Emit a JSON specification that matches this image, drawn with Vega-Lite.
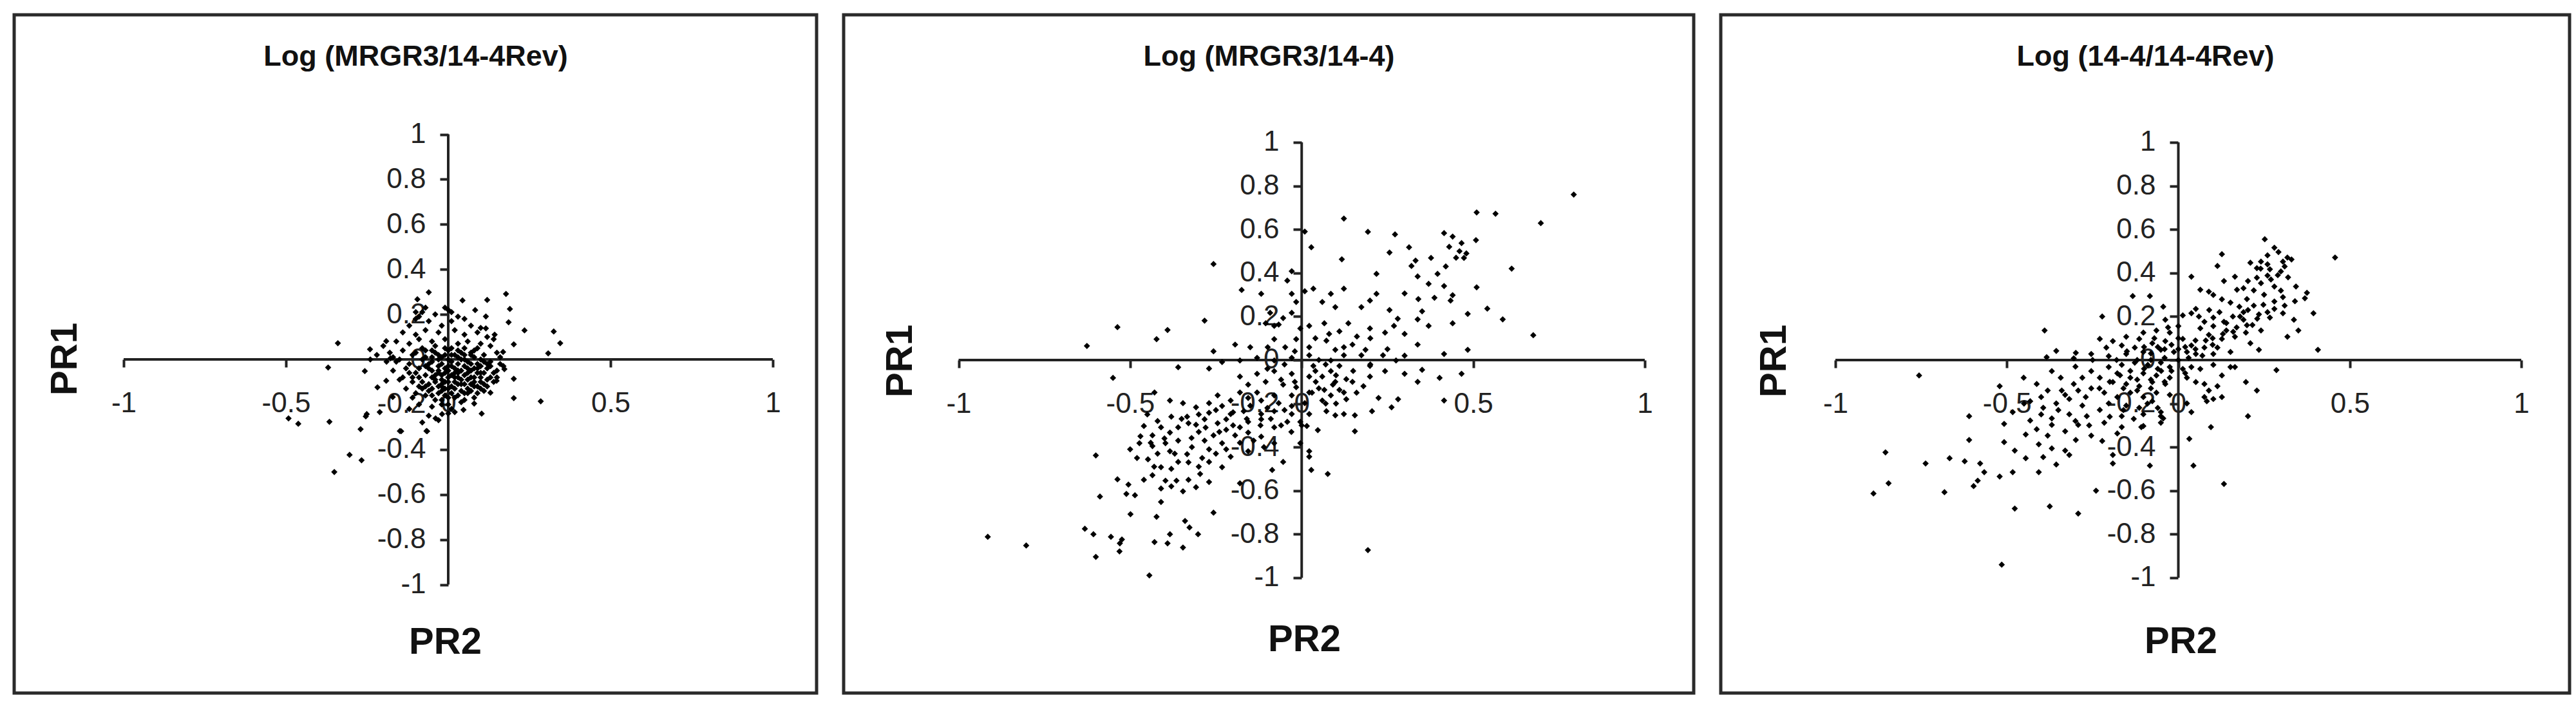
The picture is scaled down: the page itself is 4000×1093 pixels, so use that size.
{
  "$schema": "https://vega.github.io/schema/vega-lite/v6.json",
  "background": "white",
  "padding": {"left": 19, "top": 20, "right": 0, "bottom": 0},
  "spacing": 36,
  "config": {
    "view": {"stroke": "#2a2a2a", "strokeWidth": 5},
    "axis": {
      "domain": false,
      "grid": false,
      "tickColor": "#222",
      "tickWidth": 4,
      "labelFont": "Liberation Sans, Arial, sans-serif",
      "labelFontSize": 44,
      "labelColor": "#222",
      "titleFont": "Liberation Sans Narrow, Liberation Sans, Arial, sans-serif",
      "titleFontSize": 58,
      "titleFontWeight": "bold",
      "titleColor": "#111",
      "titleAngle": 0,
      "titleAlign": "center",
      "titleBaseline": "middle"
    },
    "axisX": {"tickSize": 12, "labelPadding": 34},
    "axisY": {"tickSize": 13, "labelPadding": 22, "titleAngle": -90}
  },
  "datasets": {
    "ax": [
      {"x": -1, "x2": 1, "y": 0, "y2": 0},
      {"x": 0, "x2": 0, "y": -1, "y2": 1}
    ],
    "p1": [
      {"x":-0.06,"y":0.298},{"x":0.178,"y":0.291},{"x":0.12,"y":0.264},{"x":0.044,"y":0.262},{"x":-0.095,"y":0.267},
      {"x":0.19,"y":0.224},{"x":0.083,"y":0.219},{"x":0.116,"y":0.191},{"x":0.186,"y":0.165},{"x":0.116,"y":0.138},
      {"x":0.235,"y":0.129},{"x":0.325,"y":0.124},{"x":0.345,"y":0.072},{"x":0.202,"y":0.067},{"x":0.308,"y":0.027},
      {"x":0.169,"y":0.033},{"x":0.143,"y":0.11},{"x":-0.34,"y":0.072},{"x":-0.241,"y":0.045},{"x":-0.191,"y":0.081},
      {"x":-0.37,"y":-0.036},{"x":-0.257,"y":-0.052},{"x":-0.178,"y":0.005},{"x":-0.218,"y":-0.124},{"x":-0.191,"y":-0.095},
      {"x":-0.171,"y":-0.167},{"x":-0.251,"y":-0.243},{"x":-0.254,"y":-0.253},{"x":-0.211,"y":-0.234},{"x":-0.27,"y":-0.31},
      {"x":-0.366,"y":-0.277},{"x":-0.462,"y":-0.286},{"x":-0.492,"y":-0.262},{"x":-0.145,"y":-0.319},{"x":-0.304,"y":-0.424},
      {"x":-0.267,"y":-0.448},{"x":0.173,"y":-0.043},{"x":0.202,"y":-0.086},{"x":0.149,"y":-0.095},{"x":0.13,"y":-0.148},
      {"x":0.202,"y":-0.172},{"x":0.285,"y":-0.186},{"x":0.103,"y":-0.241},{"x":0.08,"y":-0.196},{"x":0.047,"y":-0.224},
      {"x":0.02,"y":-0.234},{"x":-0.065,"y":-0.319},{"x":-0.039,"y":-0.262},{"x":-0.019,"y":-0.243},{"x":-0.351,"y":-0.5},
      {"x":-0.149,"y":-0.318},{"x":-0.067,"y":-0.318},
      {"x":-0.08,"y":0.21},{"x":-0.04,"y":0.2},{"x":0,"y":0.22},{"x":0.03,"y":0.19},{"x":-0.1,"y":0.18},{"x":-0.06,"y":0.17},
      {"x":0.01,"y":0.17},{"x":0.05,"y":0.18},{"x":-0.12,"y":0.15},{"x":-0.02,"y":0.15},{"x":0.07,"y":0.15},{"x":0.1,"y":0.14},
      {"x":-0.14,"y":0.12},{"x":-0.1,"y":0.11},{"x":-0.07,"y":0.13},{"x":-0.03,"y":0.12},{"x":0.02,"y":0.13},{"x":0.05,"y":0.11},
      {"x":0.09,"y":0.12},{"x":0.12,"y":0.1},{"x":0.14,"y":0.09},
      {"x":-0.16,"y":0.08},{"x":-0.12,"y":0.07},{"x":-0.09,"y":0.09},{"x":-0.05,"y":0.08},{"x":-0.01,"y":0.09},{"x":0.03,"y":0.07},
      {"x":0.06,"y":0.08},{"x":0.1,"y":0.07},{"x":0.13,"y":0.06},{"x":-0.2,"y":0.06},
      {"x":-0.18,"y":0.03},{"x":-0.14,"y":0.04},{"x":-0.11,"y":0.02},{"x":-0.07,"y":0.04},{"x":-0.04,"y":0.03},{"x":0,"y":0.04},
      {"x":0.04,"y":0.03},{"x":0.08,"y":0.04},{"x":0.11,"y":0.02},{"x":0.15,"y":0.03},{"x":-0.22,"y":0.02},
      {"x":-0.19,"y":-0.01},{"x":-0.15,"y":0},{"x":-0.12,"y":-0.02},{"x":-0.08,"y":0},{"x":-0.05,"y":-0.01},{"x":-0.02,"y":0.01},
      {"x":0.01,"y":-0.01},{"x":0.04,"y":0},{"x":0.07,"y":-0.02},{"x":0.1,"y":0},{"x":0.13,"y":-0.01},{"x":0.16,"y":-0.02},{"x":-0.24,"y":0},
      {"x":-0.17,"y":-0.05},{"x":-0.13,"y":-0.04},{"x":-0.1,"y":-0.06},{"x":-0.06,"y":-0.04},{"x":-0.03,"y":-0.05},{"x":0,"y":-0.03},
      {"x":0.03,"y":-0.05},{"x":0.06,"y":-0.04},{"x":0.09,"y":-0.06},{"x":0.12,"y":-0.04},{"x":0.15,"y":-0.05},
      {"x":-0.15,"y":-0.09},{"x":-0.11,"y":-0.08},{"x":-0.08,"y":-0.1},{"x":-0.05,"y":-0.08},{"x":-0.02,"y":-0.09},{"x":0.01,"y":-0.07},
      {"x":0.04,"y":-0.09},{"x":0.07,"y":-0.08},{"x":0.1,"y":-0.1},{"x":0.13,"y":-0.08},
      {"x":-0.13,"y":-0.13},{"x":-0.09,"y":-0.12},{"x":-0.06,"y":-0.14},{"x":-0.03,"y":-0.12},{"x":0,"y":-0.13},{"x":0.03,"y":-0.11},
      {"x":0.06,"y":-0.13},{"x":0.09,"y":-0.12},{"x":0.11,"y":-0.14},
      {"x":-0.11,"y":-0.17},{"x":-0.07,"y":-0.16},{"x":-0.04,"y":-0.18},{"x":-0.01,"y":-0.16},{"x":0.02,"y":-0.17},{"x":0.05,"y":-0.15},{"x":0.08,"y":-0.17},
      {"x":-0.09,"y":-0.2},{"x":-0.05,"y":-0.21},{"x":-0.02,"y":-0.2},{"x":0.01,"y":-0.22},{"x":0.04,"y":-0.19},{"x":-0.12,"y":-0.22},
      {"x":-0.06,"y":-0.25},{"x":-0.03,"y":-0.27},{"x":-0.08,"y":-0.28},{"x":0,"y":-0.24},
      {"x":-0.03,"y":-0.06},{"x":0,"y":-0.08},{"x":0.03,"y":-0.02},{"x":0.05,"y":-0.07},{"x":-0.01,"y":-0.04},{"x":0.02,"y":-0.1},
      {"x":0.06,"y":-0.01},{"x":-0.04,"y":-0.1},{"x":0.08,"y":-0.04},{"x":0,"y":0},{"x":0.01,"y":-0.12},{"x":-0.02,"y":-0.14},
      {"x":0.04,"y":-0.14},{"x":0.07,"y":-0.11},{"x":0.1,"y":-0.06},{"x":0.12,"y":-0.02},{"x":-0.07,"y":-0.07},{"x":-0.09,"y":-0.04},
      {"x":0.05,"y":0.02},{"x":-0.03,"y":0},{"x":-0.17,"y":0.01},{"x":-0.16,"y":-0.01},{"x":-0.1,"y":0.21},{"x":-0.07,"y":0.23},
      {"x":-0.09,"y":0.19},{"x":-0.01,"y":0.23},{"x":0.01,"y":0.21},{"x":-0.02,"y":-0.02},{"x":0.02,"y":0.02},{"x":-0.04,"y":0.06},
      {"x":0.02,"y":-0.06},{"x":-0.06,"y":-0.02},{"x":0.05,"y":0.05},{"x":-0.01,"y":-0.1},{"x":0.08,"y":0.01},
      {"x":-0.07,"y":0.01},{"x":-0.04,"y":-0.07},{"x":0.02,"y":-0.04},{"x":0.04,"y":-0.05},{"x":0.06,"y":-0.06},{"x":0.08,"y":-0.08},
      {"x":0.03,"y":-0.08},{"x":0,"y":-0.05},{"x":-0.02,"y":-0.07},{"x":0.05,"y":-0.11},{"x":0.08,"y":-0.1},{"x":0.1,"y":-0.08},
      {"x":0.02,"y":-0.13},{"x":-0.02,"y":-0.11},{"x":0.06,"y":-0.15},{"x":0,"y":-0.17},{"x":-0.05,"y":-0.13},{"x":0.1,"y":-0.03},
      {"x":0.11,"y":-0.11},{"x":0.09,"y":-0.02},{"x":0.03,"y":0.01},{"x":-0.01,"y":0.02},{"x":0.07,"y":0.03},{"x":-0.05,"y":0.01},
      {"x":0.01,"y":0.05},{"x":-0.08,"y":-0.13},{"x":-0.1,"y":-0.15},{"x":0.14,"y":-0.1},{"x":0.12,"y":-0.12},{"x":0.15,"y":-0.08},
      {"x":-0.12,"y":-0.06},{"x":-0.14,"y":-0.08},{"x":0.17,"y":-0.03},{"x":0.16,"y":0.01},
      {"x":-0.07,"y":-0.03},{"x":-0.05,"y":-0.05},{"x":-0.03,"y":-0.03},{"x":-0.01,"y":-0.06},{"x":0.01,"y":-0.03},{"x":0.03,"y":-0.06},
      {"x":0.05,"y":-0.03},{"x":0.07,"y":-0.05},{"x":0.09,"y":-0.04},{"x":0.11,"y":-0.06},{"x":-0.06,"y":-0.11},{"x":-0.04,"y":-0.09},
      {"x":-0.02,"y":-0.12},{"x":0,"y":-0.1},{"x":0.02,"y":-0.08},{"x":0.04,"y":-0.11},{"x":0.06,"y":-0.09},{"x":0.08,"y":-0.12},
      {"x":0.1,"y":-0.13},{"x":0.12,"y":-0.09},{"x":-0.05,"y":0.04},{"x":-0.03,"y":0.02},{"x":-0.01,"y":0.05},{"x":0.01,"y":0.02},
      {"x":0.03,"y":0.04},{"x":0.05,"y":0},{"x":0.07,"y":0.02},{"x":0.09,"y":0.05},{"x":-0.08,"y":0.05},{"x":-0.1,"y":0.03},
      {"x":-0.03,"y":-0.15},{"x":-0.01,"y":-0.13},{"x":0.01,"y":-0.15},{"x":0.03,"y":-0.16},{"x":0.05,"y":-0.18},{"x":-0.05,"y":-0.16},
      {"x":0.07,"y":-0.14},{"x":0.09,"y":-0.15},{"x":-0.02,"y":-0.18},{"x":0,"y":-0.2},{"x":0.14,"y":-0.06},{"x":0.13,"y":-0.03},
      {"x":0.11,"y":-0.01},{"x":-0.09,"y":-0.08},{"x":-0.11,"y":-0.1},{"x":-0.07,"y":-0.12}
    ],
    "p2": [
      {"x":0.793,"y":0.76},{"x":0.51,"y":0.678},{"x":0.565,"y":0.672},{"x":0.697,"y":0.629},{"x":0.123,"y":0.65},
      {"x":0.193,"y":0.589},{"x":0.272,"y":0.577},{"x":0.009,"y":0.59},{"x":0.028,"y":0.518},{"x":0.415,"y":0.583},
      {"x":0.44,"y":0.567},{"x":0.466,"y":0.537},{"x":0.46,"y":0.5},{"x":0.473,"y":0.469},{"x":0.508,"y":0.551},
      {"x":0.313,"y":0.518},{"x":0.256,"y":0.494},{"x":0.612,"y":0.42},{"x":0.377,"y":0.469},{"x":0.332,"y":0.457},
      {"x":0.32,"y":0.432},{"x":0.396,"y":0.396},{"x":0.338,"y":0.384},{"x":0.218,"y":0.396},{"x":0.117,"y":0.463},
      {"x":0.415,"y":0.34},{"x":0.51,"y":0.334},{"x":0.3,"y":0.306},{"x":0.387,"y":0.286},{"x":0.44,"y":0.298},
      {"x":0.434,"y":0.273},{"x":0.199,"y":0.273},{"x":0.218,"y":0.304},{"x":0.123,"y":0.328},{"x":0.034,"y":0.328},
      {"x":0.085,"y":0.304},{"x":-0.029,"y":0.304},{"x":-0.118,"y":0.304},{"x":-0.175,"y":0.322},{"x":-0.257,"y":0.441},
      {"x":-0.029,"y":0.408},{"x":0.098,"y":0.243},{"x":0.174,"y":0.243},{"x":0.256,"y":0.23},{"x":0.351,"y":0.224},
      {"x":0.484,"y":0.212},{"x":0.541,"y":0.236},{"x":0.586,"y":0.187},{"x":0.44,"y":0.169},{"x":0.37,"y":0.157},
      {"x":0.338,"y":0.187},{"x":0.269,"y":0.157},{"x":0.199,"y":0.145},{"x":0.136,"y":0.169},{"x":0.066,"y":0.169},
      {"x":0.022,"y":0.157},{"x":0.3,"y":0.12},{"x":0.243,"y":0.126},{"x":0.675,"y":0.114},{"x":0.338,"y":0.071},
      {"x":0.484,"y":0.047},{"x":0.415,"y":0.028},{"x":0.161,"y":0.108},{"x":0.123,"y":0.059},{"x":0.072,"y":0.089},
      {"x":0.022,"y":0.059},{"x":-0.048,"y":0.059},{"x":-0.099,"y":0.059},{"x":-0.15,"y":0.059},{"x":-0.194,"y":0.071},
      {"x":-0.257,"y":0.04},{"x":-0.283,"y":0.181},{"x":-0.391,"y":0.138},{"x":-0.423,"y":0.096},{"x":-0.537,"y":0.151},
      {"x":-0.626,"y":0.065},{"x":-0.55,"y":-0.082},{"x":-0.36,"y":-0.033},{"x":-0.27,"y":-0.039},{"x":-0.067,"y":0.163},
      {"x":-0.105,"y":0.169},{"x":-0.08,"y":0.096},{"x":-0.016,"y":0.096},{"x":-0.004,"y":0.145},{"x":0.174,"y":0.022},
      {"x":0.237,"y":0.022},{"x":0.275,"y":-0.002},{"x":0.199,"y":-0.027},{"x":0.243,"y":-0.051},{"x":0.3,"y":-0.063},
      {"x":0.338,"y":-0.1},{"x":0.402,"y":-0.082},{"x":0.466,"y":-0.063},{"x":0.351,"y":-0.045},{"x":0.199,"y":-0.076},
      {"x":0.148,"y":-0.1},{"x":0.224,"y":-0.174},{"x":0.281,"y":-0.18},{"x":0.262,"y":-0.217},{"x":0.415,"y":-0.186},
      {"x":0.205,"y":-0.235},{"x":0.155,"y":-0.254},{"x":0.155,"y":-0.327},{"x":0.123,"y":-0.149},{"x":0.085,"y":-0.162},
      {"x":0.098,"y":-0.1},{"x":0.06,"y":-0.076},{"x":0.11,"y":-0.027},{"x":0.085,"y":-0.002},{"x":0.034,"y":-0.027},
      {"x":0.022,"y":0.022},{"x":-0.029,"y":0.01},{"x":-0.08,"y":-0.002},{"x":-0.13,"y":0.01},{"x":-0.18,"y":-0.002},
      {"x":-0.232,"y":-0.009},{"x":-0.18,"y":-0.076},{"x":-0.13,"y":-0.063},{"x":-0.08,"y":-0.051},{"x":-0.029,"y":-0.063},
      {"x":0.022,"y":-0.076},{"x":-0.016,"y":-0.125},{"x":-0.054,"y":-0.113},{"x":-0.105,"y":-0.1},{"x":-0.156,"y":-0.113},
      {"x":-0.18,"y":-0.149},{"x":-0.13,"y":-0.149},{"x":-0.08,"y":-0.162},{"x":-0.029,"y":-0.162},{"x":0.022,"y":-0.149},
      {"x":0.06,"y":-0.186},{"x":0.009,"y":-0.198},{"x":-0.029,"y":-0.211},{"x":-0.067,"y":-0.198},{"x":-0.118,"y":-0.186},
      {"x":-0.156,"y":-0.174},{"x":-0.207,"y":-0.186},{"x":-0.232,"y":-0.211},{"x":-0.27,"y":-0.198},{"x":-0.308,"y":-0.217},
      {"x":-0.346,"y":-0.198},{"x":-0.384,"y":-0.186},{"x":-0.429,"y":-0.149},{"x":-0.245,"y":-0.162},{"x":-0.27,"y":-0.242},
      {"x":-0.207,"y":-0.248},{"x":-0.169,"y":-0.235},{"x":-0.118,"y":-0.248},{"x":-0.08,"y":-0.235},{"x":-0.029,"y":-0.248},
      {"x":0.022,"y":-0.248},{"x":0.072,"y":-0.235},{"x":0.098,"y":-0.254},{"x":0.123,"y":-0.248},{"x":0.047,"y":-0.322},
      {"x":0.015,"y":-0.303},{"x":-0.004,"y":-0.284},{"x":-0.042,"y":-0.284},{"x":-0.08,"y":-0.309},{"x":-0.118,"y":-0.272},
      {"x":-0.156,"y":-0.284},{"x":-0.18,"y":-0.309},{"x":-0.22,"y":-0.272},{"x":-0.245,"y":-0.29},{"x":-0.283,"y":-0.272},
      {"x":-0.308,"y":-0.297},{"x":-0.334,"y":-0.26},{"x":-0.36,"y":-0.309},{"x":-0.384,"y":-0.333},{"x":-0.41,"y":-0.309},
      {"x":-0.435,"y":-0.346},{"x":-0.46,"y":-0.303},{"x":-0.473,"y":-0.382},{"x":-0.435,"y":-0.395},{"x":-0.397,"y":-0.382},
      {"x":-0.36,"y":-0.37},{"x":-0.321,"y":-0.358},{"x":-0.283,"y":-0.37},{"x":-0.257,"y":-0.346},{"x":-0.232,"y":-0.382},
      {"x":-0.194,"y":-0.346},{"x":-0.156,"y":-0.333},{"x":-0.118,"y":-0.352},{"x":-0.08,"y":-0.382},{"x":-0.156,"y":-0.419},
      {"x":-0.207,"y":-0.444},{"x":-0.232,"y":-0.492},{"x":-0.27,"y":-0.468},{"x":-0.296,"y":-0.523},{"x":-0.334,"y":-0.432},
      {"x":-0.36,"y":-0.468},{"x":-0.384,"y":-0.419},{"x":-0.41,"y":-0.492},{"x":-0.435,"y":-0.529},{"x":-0.448,"y":-0.456},
      {"x":-0.397,"y":-0.554},{"x":-0.365,"y":-0.554},{"x":-0.346,"y":-0.603},{"x":-0.308,"y":-0.584},{"x":-0.41,"y":-0.59},
      {"x":-0.41,"y":-0.652},{"x":-0.511,"y":-0.615},{"x":-0.486,"y":-0.621},{"x":-0.537,"y":-0.548},{"x":-0.505,"y":-0.572},
      {"x":-0.588,"y":-0.627},{"x":-0.6,"y":-0.438},{"x":-0.257,"y":-0.701},{"x":-0.18,"y":-0.566},{"x":-0.086,"y":-0.505},
      {"x":-0.054,"y":-0.468},{"x":0.022,"y":-0.419},{"x":0.022,"y":-0.444},{"x":0.028,"y":-0.505},{"x":0.076,"y":-0.523},
      {"x":-0.004,"y":-0.382},{"x":-0.499,"y":-0.708},{"x":-0.423,"y":-0.72},{"x":-0.34,"y":-0.739},{"x":-0.327,"y":-0.769},
      {"x":-0.302,"y":-0.8},{"x":-0.632,"y":-0.775},{"x":-0.607,"y":-0.8},{"x":-0.556,"y":-0.812},{"x":-0.524,"y":-0.824},
      {"x":-0.53,"y":-0.842},{"x":-0.429,"y":-0.836},{"x":-0.384,"y":-0.8},{"x":-0.391,"y":-0.842},{"x":-0.346,"y":-0.861},
      {"x":-0.531,"y":-0.879},{"x":-0.6,"y":-0.904},{"x":-0.444,"y":-0.989},{"x":-0.915,"y":-0.812},{"x":-0.803,"y":-0.852},
      {"x":0.193,"y":-0.873},{"x":-0.092,"y":0.217},{"x":-0.054,"y":0.193},{"x":-0.029,"y":0.217},{"x":-0.08,"y":0.157},
      {"x":-0.016,"y":0.267},{"x":0.009,"y":0.316},{"x":-0.042,"y":0.365},{"x":0.06,"y":0.267},{"x":0.11,"y":0.132},
      {"x":0.148,"y":0.071},{"x":0.186,"y":0.047},{"x":0.123,"y":0.022},{"x":0.098,"y":0.047},{"x":0.13,"y":-0.088},
      {"x":0.091,"y":-0.113},{"x":0.11,"y":-0.137},{"x":0.066,"y":-0.137},{"x":0.041,"y":-0.1},{"x":0.085,"y":-0.051},
      {"x":-0.05,"y":-0.02},{"x":-0.02,"y":-0.1},{"x":0.04,"y":-0.05},{"x":0.07,"y":-0.02},{"x":-0.1,"y":-0.04},{"x":-0.06,"y":-0.09},
      {"x":0.05,"y":-0.13},{"x":0.1,"y":-0.07},{"x":-0.2,"y":-0.24},{"x":-0.25,"y":-0.23},{"x":-0.3,"y":-0.25},{"x":-0.15,"y":-0.21},
      {"x":-0.1,"y":-0.22},{"x":-0.05,"y":-0.23},{"x":-0.35,"y":-0.27},{"x":-0.4,"y":-0.36},{"x":-0.3,"y":-0.33},{"x":-0.22,"y":-0.32},
      {"x":-0.32,"y":-0.4},{"x":-0.27,"y":-0.41},{"x":-0.42,"y":-0.43},{"x":-0.38,"y":-0.5},{"x":-0.3,"y":-0.49},
      {"x":-0.45,"y":-0.25},{"x":-0.42,"y":-0.28},{"x":-0.38,"y":-0.26},{"x":-0.33,"y":-0.29},{"x":-0.28,"y":-0.31},{"x":-0.24,"y":-0.33},
      {"x":-0.2,"y":-0.3},{"x":-0.16,"y":-0.27},{"x":-0.12,"y":-0.3},{"x":-0.09,"y":-0.27},{"x":-0.06,"y":-0.3},{"x":-0.03,"y":-0.33},
      {"x":0,"y":-0.3},{"x":-0.47,"y":-0.35},{"x":-0.44,"y":-0.38},{"x":-0.37,"y":-0.43},{"x":-0.33,"y":-0.47},{"x":-0.29,"y":-0.45},
      {"x":-0.25,"y":-0.43},{"x":-0.22,"y":-0.41},{"x":-0.18,"y":-0.38},{"x":-0.14,"y":-0.37},{"x":-0.11,"y":-0.4},{"x":-0.43,"y":-0.49},
      {"x":-0.46,"y":-0.55},{"x":-0.38,"y":-0.58},{"x":-0.33,"y":-0.55},{"x":-0.27,"y":-0.56},{"x":-0.48,"y":-0.45},{"x":-0.5,"y":-0.41},
      {"x":0.03,"y":-0.15},{"x":0.07,"y":-0.2},{"x":0.1,"y":-0.2},{"x":0.13,"y":-0.18},{"x":0.16,"y":-0.15},{"x":0.18,"y":-0.12},
      {"x":0.15,"y":-0.05},{"x":0.2,"y":-0.02},{"x":0.05,"y":0},{"x":-0.02,"y":0.04},{"x":0.04,"y":0.1},{"x":0.08,"y":0.12},
      {"x":0.2,"y":0.1},{"x":0.25,"y":0.05},{"x":0.3,"y":0.02},{"x":0.28,"y":0.19},{"x":0.34,"y":0.28},{"x":0.37,"y":0.35},
      {"x":0.42,"y":0.43},{"x":0.45,"y":0.47},{"x":0.43,"y":0.52},{"x":0.48,"y":0.49}
    ],
    "p3": [
      {"x":0.252,"y":0.555},{"x":0.457,"y":0.471},{"x":0.28,"y":0.516},{"x":0.292,"y":0.496},{"x":0.318,"y":0.471},
      {"x":0.33,"y":0.462},{"x":0.305,"y":0.452},{"x":0.26,"y":0.481},{"x":0.241,"y":0.452},{"x":0.21,"y":0.447},
      {"x":0.229,"y":0.422},{"x":0.267,"y":0.417},{"x":0.299,"y":0.407},{"x":0.26,"y":0.388},{"x":0.229,"y":0.378},
      {"x":0.203,"y":0.363},{"x":0.241,"y":0.353},{"x":0.28,"y":0.338},{"x":0.299,"y":0.319},{"x":0.343,"y":0.338},
      {"x":0.375,"y":0.309},{"x":0.369,"y":0.284},{"x":0.305,"y":0.289},{"x":0.28,"y":0.269},{"x":0.248,"y":0.254},
      {"x":0.28,"y":0.235},{"x":0.305,"y":0.215},{"x":0.267,"y":0.195},{"x":0.235,"y":0.21},{"x":0.203,"y":0.23},
      {"x":0.178,"y":0.245},{"x":0.152,"y":0.264},{"x":0.127,"y":0.279},{"x":0.102,"y":0.299},{"x":0.064,"y":0.323},
      {"x":0.127,"y":0.486},{"x":0.114,"y":0.432},{"x":0.165,"y":0.383},{"x":0.133,"y":0.363},{"x":0.171,"y":0.323},
      {"x":0.089,"y":0.314},{"x":0.038,"y":0.383},{"x":0.394,"y":0.215},{"x":0.337,"y":0.185},{"x":0.35,"y":0.136},
      {"x":0.318,"y":0.107},{"x":0.407,"y":0.047},{"x":0.235,"y":0.047},{"x":0.21,"y":0.077},{"x":0.241,"y":0.136},
      {"x":0.216,"y":0.161},{"x":0.19,"y":0.185},{"x":0.159,"y":0.2},{"x":0.133,"y":0.176},{"x":0.102,"y":0.195},
      {"x":0.076,"y":0.176},{"x":0.102,"y":0.156},{"x":0.14,"y":0.136},{"x":0.165,"y":0.107},{"x":0.197,"y":0.126},
      {"x":0.127,"y":0.097},{"x":0.089,"y":0.116},{"x":0.064,"y":0.146},{"x":0.038,"y":0.215},{"x":0.051,"y":0.235},
      {"x":0.013,"y":0.205},{"x":-0.038,"y":0.185},{"x":-0.044,"y":0.245},{"x":-0.083,"y":0.294},{"x":-0.133,"y":0.294},
      {"x":-0.222,"y":0.2},{"x":-0.39,"y":0.136},{"x":0,"y":0.156},{"x":-0.025,"y":0.126},{"x":-0.064,"y":0.136},
      {"x":-0.102,"y":0.126},{"x":-0.114,"y":0.097},{"x":-0.152,"y":0.107},{"x":-0.191,"y":0.087},{"x":-0.229,"y":0.097},
      {"x":-0.21,"y":0.057},{"x":-0.165,"y":0.067},{"x":-0.127,"y":0.057},{"x":-0.076,"y":0.077},{"x":-0.038,"y":0.087},
      {"x":0.013,"y":0.097},{"x":0.038,"y":0.067},{"x":0.076,"y":0.057},{"x":0.114,"y":0.057},{"x":0.152,"y":0.037},
      {"x":0.102,"y":0.028},{"x":0.051,"y":0.028},{"x":0.025,"y":0.037},{"x":-0.013,"y":0.037},{"x":-0.051,"y":0.047},
      {"x":-0.102,"y":0.037},{"x":-0.152,"y":0.028},{"x":-0.203,"y":0.018},{"x":-0.254,"y":0.028},{"x":-0.299,"y":0.033},
      {"x":-0.356,"y":0.042},{"x":-0.384,"y":0.013},{"x":-0.305,"y":0.008},{"x":0.286,"y":-0.046},{"x":0.197,"y":-0.101},
      {"x":0.229,"y":-0.14},{"x":0.203,"y":-0.258},{"x":0.095,"y":-0.308},{"x":0.133,"y":-0.569},{"x":0.044,"y":-0.485},
      {"x":0.032,"y":-0.362},{"x":0.127,"y":-0.17},{"x":0.102,"y":-0.179},{"x":0.076,"y":-0.17},{"x":0.114,"y":-0.12},
      {"x":0.076,"y":-0.11},{"x":0.051,"y":-0.101},{"x":0.025,"y":-0.081},{"x":0.064,"y":-0.041},{"x":0.102,"y":-0.022},
      {"x":0.152,"y":-0.032},{"x":0.127,"y":-0.071},{"x":0.038,"y":-0.032},{"x":0.013,"y":-0.041},{"x":-0.025,"y":-0.032},
      {"x":-0.051,"y":-0.012},{"x":-0.089,"y":-0.022},{"x":-0.127,"y":-0.012},{"x":-0.165,"y":-0.022},{"x":-0.203,"y":-0.032},
      {"x":-0.178,"y":-0.061},{"x":-0.14,"y":-0.081},{"x":-0.102,"y":-0.061},{"x":-0.064,"y":-0.071},{"x":-0.025,"y":-0.081},
      {"x":-0.038,"y":-0.11},{"x":-0.076,"y":-0.101},{"x":-0.114,"y":-0.12},{"x":-0.152,"y":-0.11},{"x":-0.191,"y":-0.101},
      {"x":-0.229,"y":-0.081},{"x":-0.254,"y":-0.051},{"x":-0.28,"y":-0.081},{"x":-0.305,"y":-0.11},{"x":-0.343,"y":-0.081},
      {"x":-0.369,"y":-0.051},{"x":-0.413,"y":-0.11},{"x":-0.451,"y":-0.081},{"x":-0.521,"y":-0.12},{"x":-0.756,"y":-0.071},
      {"x":-0.381,"y":-0.14},{"x":-0.33,"y":-0.16},{"x":-0.292,"y":-0.14},{"x":-0.254,"y":-0.13},{"x":-0.216,"y":-0.15},
      {"x":-0.178,"y":-0.17},{"x":-0.14,"y":-0.15},{"x":-0.102,"y":-0.17},{"x":-0.064,"y":-0.15},{"x":-0.025,"y":-0.16},
      {"x":-0.076,"y":-0.189},{"x":-0.114,"y":-0.219},{"x":-0.152,"y":-0.209},{"x":-0.203,"y":-0.199},{"x":-0.229,"y":-0.229},
      {"x":-0.28,"y":-0.209},{"x":-0.318,"y":-0.179},{"x":-0.356,"y":-0.199},{"x":-0.394,"y":-0.219},{"x":-0.432,"y":-0.189},
      {"x":-0.483,"y":-0.239},{"x":-0.61,"y":-0.258},{"x":-0.508,"y":-0.293},{"x":-0.432,"y":-0.278},{"x":-0.369,"y":-0.268},
      {"x":-0.318,"y":-0.249},{"x":-0.267,"y":-0.258},{"x":-0.165,"y":-0.258},{"x":-0.102,"y":-0.249},{"x":-0.051,"y":-0.258},
      {"x":-0.051,"y":-0.288},{"x":-0.102,"y":-0.303},{"x":-0.165,"y":-0.308},{"x":-0.216,"y":-0.288},{"x":-0.292,"y":-0.298},
      {"x":-0.369,"y":-0.298},{"x":-0.413,"y":-0.318},{"x":-0.445,"y":-0.342},{"x":-0.381,"y":-0.347},{"x":-0.33,"y":-0.327},
      {"x":-0.254,"y":-0.347},{"x":-0.178,"y":-0.337},{"x":-0.222,"y":-0.372},{"x":-0.299,"y":-0.367},{"x":-0.33,"y":-0.416},
      {"x":-0.318,"y":-0.436},{"x":-0.369,"y":-0.406},{"x":-0.407,"y":-0.387},{"x":-0.508,"y":-0.377},{"x":-0.477,"y":-0.416},
      {"x":-0.445,"y":-0.451},{"x":-0.394,"y":-0.446},{"x":-0.356,"y":-0.48},{"x":-0.407,"y":-0.515},{"x":-0.483,"y":-0.515},
      {"x":-0.521,"y":-0.535},{"x":-0.566,"y":-0.515},{"x":-0.578,"y":-0.475},{"x":-0.623,"y":-0.465},{"x":-0.667,"y":-0.451},
      {"x":-0.61,"y":-0.367},{"x":-0.597,"y":-0.579},{"x":-0.585,"y":-0.554},{"x":-0.682,"y":-0.607},{"x":-0.737,"y":-0.475},
      {"x":-0.854,"y":-0.424},{"x":-0.845,"y":-0.566},{"x":-0.889,"y":-0.613},{"x":-0.477,"y":-0.682},{"x":-0.375,"y":-0.672},
      {"x":-0.292,"y":-0.705},{"x":-0.191,"y":-0.436},{"x":-0.191,"y":-0.475},{"x":-0.083,"y":-0.485},{"x":-0.108,"y":-0.308},
      {"x":-0.24,"y":-0.6},{"x":-0.044,"y":-0.268},{"x":-0.051,"y":-0.239},{"x":0.038,"y":-0.239},{"x":0.025,"y":-0.199},
      {"x":0.083,"y":-0.189},{"x":0.089,"y":-0.14},{"x":0.165,"y":-0.032},{"x":-0.515,"y":-0.94},
      {"x":-0.12,"y":0},{"x":-0.08,"y":0},{"x":-0.04,"y":0.01},{"x":0,"y":0},{"x":0.03,"y":0.01},{"x":-0.1,"y":-0.04},
      {"x":-0.06,"y":-0.04},{"x":-0.02,"y":-0.05},{"x":0.02,"y":-0.06},{"x":-0.14,"y":-0.05},{"x":-0.12,"y":-0.09},{"x":-0.08,"y":-0.09},
      {"x":-0.04,"y":-0.1},{"x":-0.16,"y":-0.13},{"x":-0.12,"y":-0.14},{"x":-0.08,"y":-0.13},{"x":-0.05,"y":-0.05},{"x":-0.1,"y":0.06},
      {"x":-0.06,"y":0.06},{"x":-0.02,"y":0.07},{"x":0.02,"y":0.06},{"x":0.05,"y":0.09},{"x":0.08,"y":0.09},{"x":0.1,"y":0.1},
      {"x":0.14,"y":0.17},{"x":0.17,"y":0.15},{"x":0.19,"y":0.22},{"x":0.22,"y":0.25},{"x":0.25,"y":0.3},{"x":0.27,"y":0.37},
      {"x":0.24,"y":0.42},{"x":0.31,"y":0.43},{"x":0.26,"y":0.44},{"x":0.18,"y":0.2},{"x":0.12,"y":0.22},{"x":0.2,"y":0.28},
      {"x":-0.45,"y":-0.2},{"x":-0.4,"y":-0.25},{"x":-0.35,"y":-0.23},{"x":-0.3,"y":-0.28},{"x":-0.26,"y":-0.3},{"x":-0.2,"y":-0.26},
      {"x":-0.16,"y":-0.23},{"x":-0.13,"y":-0.27},{"x":-0.09,"y":-0.2},{"x":-0.06,"y":-0.22},{"x":-0.2,"y":-0.1},{"x":-0.17,"y":-0.07},
      {"x":-0.23,"y":-0.13},{"x":-0.27,"y":-0.17},{"x":-0.34,"y":-0.14},{"x":-0.4,"y":-0.17},{"x":-0.3,"y":-0.03},{"x":-0.25,"y":0},
      {"x":-0.18,"y":0},{"x":-0.15,"y":0.04},{"x":-0.08,"y":0.03},{"x":-0.04,"y":0.05},{"x":0,"y":0.05},{"x":0.05,"y":0.05},
      {"x":0.07,"y":0.02},{"x":0.1,"y":0.07},{"x":0.13,"y":0.12},{"x":0.16,"y":0.13},{"x":0.2,"y":0.16},{"x":0.23,"y":0.19},
      {"x":0.26,"y":0.22},{"x":0.22,"y":0.32},{"x":0.19,"y":0.33},{"x":0.29,"y":0.39},{"x":0.32,"y":0.38},{"x":0.34,"y":0.27},
      {"x":0.31,"y":0.25},{"x":0.09,"y":0.23},{"x":0.06,"y":0.2},{"x":0,"y":0.1},{"x":-0.03,"y":0.15},{"x":-0.07,"y":0.1}
    ]
  },
  "hconcat": [
    {
      "width": 1246,
      "height": 1053,
      "encoding": {
        "y": {
          "field": "y",
          "type": "quantitative",
          "scale": {"domain": [-1.4821, 1.5308], "nice": false, "zero": false},
          "axis": {"orient": "left", "offset": -674, "values": [-1, -0.8, -0.6, -0.4, -0.2, 0, 0.2, 0.4, 0.6, 0.8, 1], "labelExpr": "'' + datum.value", "title": "PR1", "titleX": -595, "titleY": 534}
        }
      },
      "layer": [
        {
          "data": {"name": "ax"},
          "mark": {"type": "rule", "color": "#222", "strokeWidth": 4},
          "encoding": {
            "x": {
              "field": "x",
              "type": "quantitative",
              "scale": {"domain": [-1.3373, 1.1349], "nice": false, "zero": false},
              "axis": {"orient": "top", "offset": 0, "labels": false, "ticks": false, "title": "Log (MRGR3/14-4Rev)", "titleFont": "Liberation Sans, Arial, sans-serif", "titleFontSize": 45, "titleX": 623, "titleY": 64}
            },
            "x2": {"field": "x2"},
            "y2": {"field": "y2"}
          }
        },
        {
          "data": {"name": "p1"},
          "mark": {"type": "point", "shape": "diamond", "filled": true, "color": "#000", "size": 95, "opacity": 1},
          "encoding": {
            "x": {
              "field": "x",
              "type": "quantitative",
              "axis": {"orient": "bottom", "offset": -518, "values": [-1, -0.5, 0, 0.5, 1], "labelExpr": "'' + datum.value", "title": "PR2", "titleX": 669, "titleY": 439}
            }
          }
        }
      ],
      "resolve": {"axis": {"x": "independent"}}
    },
    {
      "width": 1320,
      "height": 1053,
      "encoding": {
        "y": {
          "field": "y",
          "type": "quantitative",
          "scale": {"domain": [-1.5296, 1.5858], "nice": false, "zero": false},
          "axis": {"orient": "left", "offset": -711, "values": [-1, -0.8, -0.6, -0.4, -0.2, 0, 0.2, 0.4, 0.6, 0.8, 1], "labelExpr": "'' + datum.value", "title": "PR1", "titleX": -623, "titleY": 537}
        }
      },
      "layer": [
        {
          "data": {"name": "ax"},
          "mark": {"type": "rule", "color": "#222", "strokeWidth": 4},
          "encoding": {
            "x": {
              "field": "x",
              "type": "quantitative",
              "scale": {"domain": [-1.3351, 1.1427], "nice": false, "zero": false},
              "axis": {"orient": "top", "offset": 0, "labels": false, "ticks": false, "title": "Log (MRGR3/14-4)", "titleFont": "Liberation Sans, Arial, sans-serif", "titleFontSize": 45, "titleX": 660, "titleY": 64}
            },
            "x2": {"field": "x2"},
            "y2": {"field": "y2"}
          }
        },
        {
          "data": {"name": "p2"},
          "mark": {"type": "point", "shape": "diamond", "filled": true, "color": "#000", "size": 95, "opacity": 1},
          "encoding": {
            "x": {
              "field": "x",
              "type": "quantitative",
              "axis": {"orient": "bottom", "offset": -517, "values": [-1, -0.5, 0, 0.5, 1], "labelExpr": "'' + datum.value", "title": "PR2", "titleX": 715, "titleY": 434}
            }
          }
        }
      ],
      "resolve": {"axis": {"x": "independent"}}
    },
    {
      "width": 1318,
      "height": 1053,
      "encoding": {
        "y": {
          "field": "y",
          "type": "quantitative",
          "scale": {"domain": [-1.5296, 1.5858], "nice": false, "zero": false},
          "axis": {"orient": "left", "offset": -710, "values": [-1, -0.8, -0.6, -0.4, -0.2, 0, 0.2, 0.4, 0.6, 0.8, 1], "labelExpr": "'' + datum.value", "title": "PR1", "titleX": -627, "titleY": 537}
        }
      },
      "layer": [
        {
          "data": {"name": "ax"},
          "mark": {"type": "rule", "color": "#222", "strokeWidth": 4},
          "encoding": {
            "x": {
              "field": "x",
              "type": "quantitative",
              "scale": {"domain": [-1.3343, 1.1408], "nice": false, "zero": false},
              "axis": {"orient": "top", "offset": 0, "labels": false, "ticks": false, "title": "Log (14-4/14-4Rev)", "titleFont": "Liberation Sans, Arial, sans-serif", "titleFontSize": 45, "titleX": 659, "titleY": 64}
            },
            "x2": {"field": "x2"},
            "y2": {"field": "y2"}
          }
        },
        {
          "data": {"name": "p3"},
          "mark": {"type": "point", "shape": "diamond", "filled": true, "color": "#000", "size": 95, "opacity": 1},
          "encoding": {
            "x": {
              "field": "x",
              "type": "quantitative",
              "axis": {"orient": "bottom", "offset": -517, "values": [-1, -0.5, 0, 0.5, 1], "labelExpr": "'' + datum.value", "title": "PR2", "titleX": 714, "titleY": 437}
            }
          }
        }
      ],
      "resolve": {"axis": {"x": "independent"}}
    }
  ]
}
